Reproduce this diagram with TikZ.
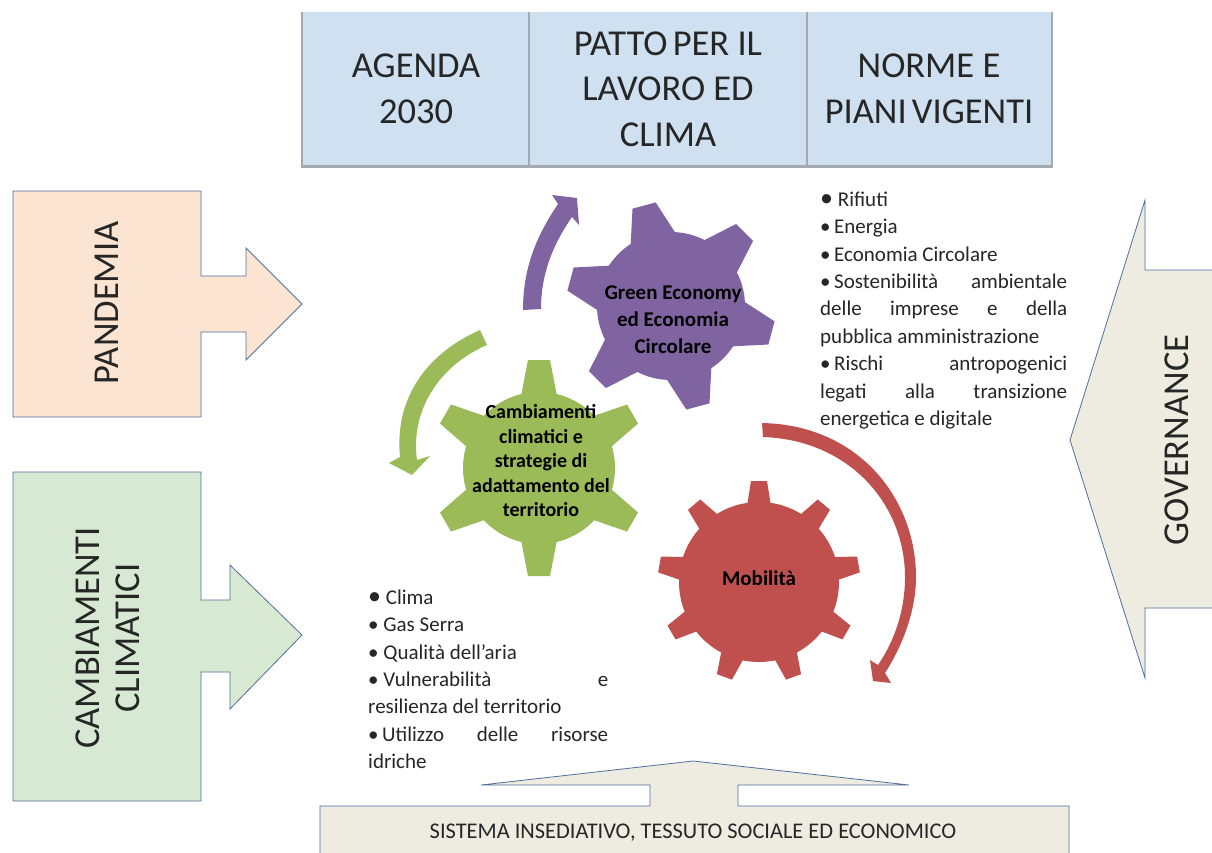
\documentclass[tikz,border=0pt]{standalone}
\usepackage{fontspec}
\setmainfont{Carlito}
\newcommand{\gearshape}[9]{%
 % cx cy r R bw tw n start colour
 \fill[#9] (#1,#2) circle[radius=#3pt];
 \pgfmathsetmacro{\gstep}{360/#7}
 \foreach \gi in {1,...,#7}{
  \pgfmathsetmacro{\gang}{#8+\gi*\gstep}
  \begin{scope}[shift={(#1,#2)},rotate=\gang]
   \fill[#9] (#3-4,-#5) -- (#4,-#6) -- (#4,#6) -- (#3-4,#5) -- cycle;
  \end{scope}
 }
}
\definecolor{cblue}{HTML}{CFE0F1}
\definecolor{cgrey}{HTML}{A3A9AF}
\definecolor{cpeach}{HTML}{FBE4D2}
\definecolor{cmint}{HTML}{D8E9D3}
\definecolor{ctan}{HTML}{EEECE1}
\definecolor{cline}{HTML}{4F6F9F}
\definecolor{cpurple}{HTML}{8064A2}
\definecolor{cgreen}{HTML}{9BBB59}
\definecolor{cred}{HTML}{C0504D}
\definecolor{ctxt}{HTML}{262626}
\tikzset{
 shapearrow/.style={draw=cline,line width=0.8pt,line join=miter},
 toplabel/.style={font=\fontsize{36.5}{45.5}\selectfont,align=center,text=ctxt,inner sep=0pt},
 sidelabel/.style={font=\fontsize{36.5}{40}\selectfont,align=center,rotate=90,text=ctxt,inner sep=0pt},
 gearlabel/.style={font=\bfseries\fontsize{#1}{24.5}\selectfont,align=center,text=black,inner sep=0pt},
 listblock/.style={font=\fontsize{21}{27.4}\selectfont,align=left,anchor=north west,text=ctxt,inner sep=0pt},
}
\newcommand{\jl}[2]{\makebox[#1pt][s]{#2}}
\newcommand{\bigb}{{\fontsize{26}{20}\selectfont\raisebox{-0.5pt}{•}}}
\begin{document}
\begin{tikzpicture}[x=1pt,y=-1pt]
\useasboundingbox (0,0) rectangle (1212,852);
\fill[white] (0,0) rectangle (1212,852);
% top table
\fill[cblue] (302,12) rectangle (1052,166);
\draw[cgrey,line width=1.5pt] (302,12) -- (302,166);
\draw[cgrey,line width=1.5pt] (529,12) -- (529,166);
\draw[cgrey,line width=1.5pt] (807,12) -- (807,166);
\draw[cgrey,line width=1.5pt] (1052,12) -- (1052,166);
\draw[cgrey,line width=3pt] (301,166) -- (1053,166);
\node[toplabel] (agenda) at (416,89) {AGENDA\\2030};
\node[toplabel] (patto) at (668,89) {PATTO\hspace{-3pt} PER IL\\LAVORO ED\\CLIMA};
\node[toplabel] (norme) at (929,89) {NORME E\\PIANI\hspace{-3pt} VIGENTI};
% side arrows
\draw[shapearrow,fill=cpeach] (13,191) -- (201,191) -- (201,276) -- (246,276) -- (246,248) -- (302,304) -- (246,360) -- (246,332) -- (201,332) -- (201,417) -- (13,417) -- cycle;
\node[sidelabel] (pandemia) at (107,303) {PANDEMIA};
\draw[shapearrow,fill=cmint] (13,472) -- (201,472) -- (201,600) -- (230,600) -- (230,565) -- (302,635) -- (230,709) -- (230,672) -- (201,672) -- (201,801) -- (13,801) -- cycle;
\node[sidelabel] (cambio) at (108,638) {CAMBIAMENTI\\CLIMATICI};
\draw[shapearrow,fill=ctan] (1214,270) -- (1145,270) -- (1145,200) -- (1070,440) -- (1145,678) -- (1145,608) -- (1214,608);
\node[sidelabel] (gov) at (1177,440) {GOVERNANCE};
\draw[shapearrow,fill=ctan] (320,854) -- (320,806) -- (650,806) -- (650,785) -- (481,785) -- (693,761) -- (909,785) -- (738,785) -- (738,806) -- (1069,806) -- (1069,854);
\node[font=\fontsize{22.4}{24}\selectfont,text=ctxt,inner sep=0pt] (sis) at (693,833) {SISTEMA INSEDIATIVO, TESSUTO SOCIALE ED ECONOMICO};
% gears
\gearshape{671}{306}{74}{104}{23}{12}{6}{45}{cpurple}
\gearshape{539}{468}{76}{108}{18}{11}{6}{30}{cgreen}
\gearshape{759}{582}{80}{101}{12}{8}{9}{50}{cred}
\node[gearlabel=21,font=\bfseries\fontsize{21}{27}\selectfont] (g1) at (673,320) {Green Economy\\ed Economia\\Circolare};
\node[gearlabel=20] (g2) at (541,461) {Cambiamenti\\climatici e\\strategie di\\adattamento del\\territorio};
\node[gearlabel=21] (g3) at (759,578) {Mobilità};
% curved arrows
\fill[cpurple] (523,310) .. controls (523,270) and (535,238) .. (558,204) -- (552,195) -- (577,198) -- (579,225) -- (572,217) .. controls (552,246) and (541,275) .. (541,309) -- cycle;
\fill[cgreen] (480,330) .. controls (430,352) and (394,395) .. (400,457) -- (389,463) -- (412,475) -- (430,456) -- (417,460) .. controls (410,410) and (440,365) .. (487,345) -- cycle;
\fill[cred] (762,423) .. controls (860,425) and (916,500) .. (916,577) .. controls (916,610) and (903,645) .. (885,673) -- (891,683) -- (873,681) -- (870,660) -- (878,665) .. controls (895,640) and (905,610) .. (905,577) .. controls (905,505) and (850,440) .. (763,437) -- cycle;
% lists
\node[listblock] (rlist) at (820,191.5) {\bigb\ Rifiuti\\•\,Energia\\•\,Economia Circolare\\\jl{247}{\mbox{•\,Sostenibilità} ambientale}\\\jl{247}{delle imprese e della}\\pubblica amministrazione\\\jl{247}{\mbox{•\,Rischi} antropogenici}\\\jl{247}{legati alla transizione}\\energetica e digitale};
\node[listblock] (llist) at (368,589.5) {\bigb\ Clima\\•\ Gas Serra\\•\ Qualità dell’aria\\\jl{240}{\mbox{•\ Vulnerabilità} e}\\resilienza del territorio\\\jl{240}{\mbox{•\,Utilizzo} delle risorse}\\idriche};
\end{tikzpicture}
\end{document}
